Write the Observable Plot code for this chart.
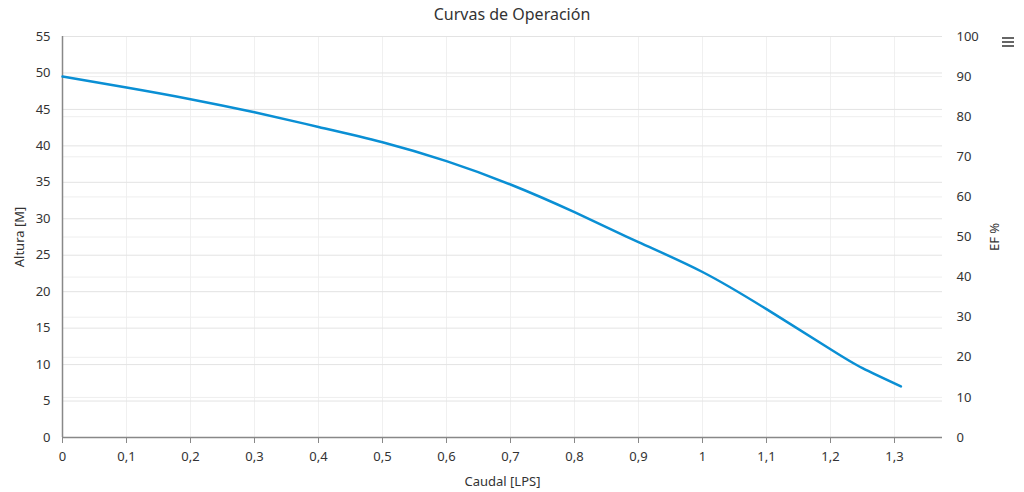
<!DOCTYPE html>
<html><head><meta charset="utf-8">
<script src="https://cdn.jsdelivr.net/npm/d3@7"></script>
<script src="https://cdn.jsdelivr.net/npm/@observablehq/plot@0.6"></script>
<style>
html,body{margin:0;padding:0;background:#fff;width:1024px;height:492px;overflow:hidden;font-family:"Noto Sans",sans-serif;}
#wrap{position:relative;width:1024px;height:492px;}
#title{height:20px;padding-top:4px;line-height:20px;text-align:center;font-size:16px;color:#333;}
#menu{position:absolute;left:1002px;top:37px;width:12px;}
#menu div{height:2px;background:#666;margin-bottom:2px;}
#chart svg{display:block;}
</style></head>
<body><div id="wrap"><div id="title">Curvas de Operación</div><div id="menu"><div></div><div></div><div></div></div><div id="chart"></div></div>
<script>
const caudal = [0, 0.1, 0.2, 0.3, 0.4, 0.5, 0.6, 0.7, 0.8, 0.9, 1.0, 1.1, 1.2, 1.25, 1.31];
const altura = [49.5, 48.0, 46.4, 44.6, 42.6, 40.5, 37.9, 34.7, 30.9, 26.8, 22.7, 17.6, 12.1, 9.5, 7.0];
const xTicks = [0, 0.1, 0.2, 0.3, 0.4, 0.5, 0.6, 0.7, 0.8, 0.9, 1.0, 1.1, 1.2, 1.3];
const alturaTicks = [0, 5, 10, 15, 20, 25, 30, 35, 40, 45, 50, 55];
const efTicks = [0, 10, 20, 30, 40, 50, 60, 70, 80, 90, 100];

const data = caudal.map((c, i) => ({caudal: c, altura: altura[i]}));
const esFmt = d => String(+d.toFixed(2)).replace(".", ",");
const efToY = v => v * 55 / 100;

const chart = Plot.plot({
  width: 1024,
  height: 468,
  marginTop: 12,
  marginBottom: 55,
  marginLeft: 62,
  marginRight: 82,
  style: {fontFamily: "Noto Sans, sans-serif", fontSize: "13px", color: "#333", overflow: "visible"},
  x: {domain: [0, 1.375]},
  y: {domain: [0, 55]},
  marks: [
    Plot.gridX(xTicks, {stroke: "#f0f0f0", strokeOpacity: 1}),
    Plot.gridY(efTicks.map(efToY), {stroke: "#eeeeee", strokeOpacity: 1}),
    Plot.gridY(alturaTicks, {stroke: "#e3e3e3", strokeOpacity: 1}),
    Plot.ruleX([0], {stroke: "#888", strokeWidth: 1.5}),
    Plot.ruleY([0], {stroke: "#888", strokeWidth: 1.5}),
    Plot.axisX(xTicks, {tickFormat: esFmt, tickSize: 6, stroke: "#888", tickPadding: 8, fontSize: 13, fill: "#333",
      label: "Caudal [LPS]", labelAnchor: "center", labelArrow: "none", labelOffset: 48}),
    Plot.axisY(alturaTicks, {anchor: "left", tickSize: 0, tickPadding: 12, fontSize: 13, fill: "#333",
      label: "Altura [M]", labelAnchor: "center", labelArrow: "none", labelOffset: 48}),
    Plot.axisY(efTicks.map(efToY), {anchor: "right", tickSize: 0, tickPadding: 14, fontSize: 13, fill: "#333",
      tickFormat: d => String(Math.round(d * 100 / 55)),
      label: "EF %", labelAnchor: "center", labelArrow: "none", labelOffset: 56}),
    Plot.line(data, {x: "caudal", y: "altura", stroke: "#0a8fd4", strokeWidth: 2.5, curve: "natural"})
  ]
});
document.getElementById("chart").appendChild(chart);
</script></body></html>
